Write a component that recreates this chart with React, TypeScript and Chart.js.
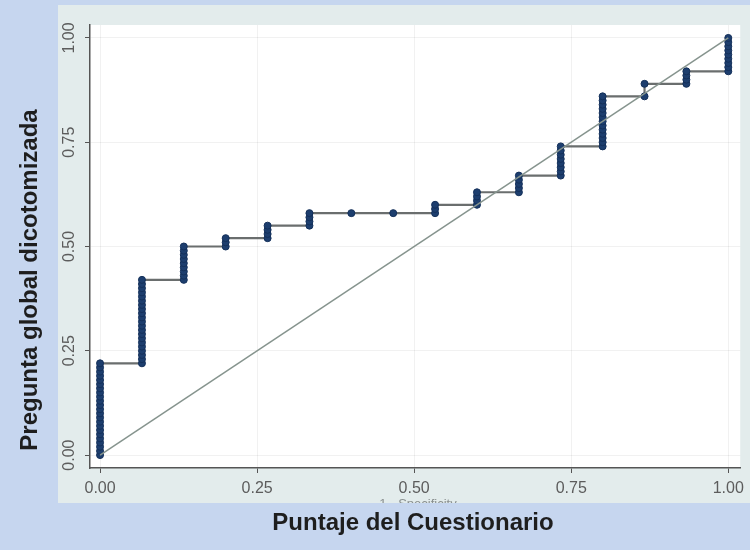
import React, { useEffect, useRef } from "react";
import { Chart, registerables } from "chart.js";

Chart.register(...registerables);

// 1 - specificity values (x) of each stack of points
const fprValues = [0, 0.0667, 0.1333, 0.2, 0.2667, 0.3333, 0.4, 0.4667, 0.5333, 0.6, 0.6667, 0.7333, 0.8, 0.8667, 0.9333, 1.0];

// sensitivity values (y) at each x, in plotting order
const sensStacks = [
  [0.0, 0.01, 0.02, 0.03, 0.04, 0.05, 0.06, 0.07, 0.08, 0.09, 0.1, 0.11, 0.12, 0.13, 0.14, 0.15, 0.16, 0.17, 0.18, 0.19, 0.2, 0.21, 0.22],
  [0.22, 0.23, 0.24, 0.25, 0.26, 0.27, 0.28, 0.29, 0.3, 0.31, 0.32, 0.33, 0.34, 0.35, 0.36, 0.37, 0.38, 0.39, 0.4, 0.41, 0.42],
  [0.42, 0.43, 0.44, 0.45, 0.46, 0.47, 0.48, 0.49, 0.5],
  [0.5, 0.51, 0.52],
  [0.52, 0.53, 0.54, 0.55],
  [0.55, 0.56, 0.57, 0.58],
  [0.58],
  [0.58],
  [0.58, 0.59, 0.6],
  [0.6, 0.61, 0.62, 0.63],
  [0.63, 0.64, 0.65, 0.66, 0.67],
  [0.67, 0.68, 0.69, 0.7, 0.71, 0.72, 0.73, 0.74],
  [0.74, 0.75, 0.76, 0.77, 0.78, 0.79, 0.8, 0.81, 0.82, 0.83, 0.84, 0.85, 0.86],
  [0.86, 0.89],
  [0.89, 0.9, 0.91, 0.92],
  [0.92, 0.93, 0.94, 0.95, 0.96, 0.97, 0.98, 0.99, 1.0],
];

const refLineX = [0, 1];
const refLineY = [0, 1];

const tickValues = [0, 0.25, 0.5, 0.75, 1];
const tickLabels = ["0.00", "0.25", "0.50", "0.75", "1.00"];

const xTitle = "Puntaje del Cuestionario";
const yTitle = "Pregunta global dicotomizada";
const ghostTitle = "1 - Specificity";

const FONT = "'Liberation Sans', Arial, sans-serif";

export default function App() {
  const ref = useRef<HTMLCanvasElement | null>(null);

  useEffect(() => {
    if (!ref.current) return;
    const rocPoints: { x: number; y: number }[] = [];
    fprValues.forEach((x, i) => {
      sensStacks[i].forEach((y) => rocPoints.push({ x, y }));
    });
    const refPoints = refLineX.map((x, i) => ({ x, y: refLineY[i] }));

    const bgPlugin = {
      id: "bg",
      beforeDraw(chart: any) {
        const { ctx, chartArea } = chart;
        ctx.save();
        ctx.fillStyle = "#c6d6ef";
        ctx.fillRect(0, 0, 750, 550);
        ctx.fillStyle = "#e3ecec";
        ctx.fillRect(58, 5, 692, 498);
        ctx.save();
        ctx.beginPath();
        ctx.rect(58, 5, 692, 498);
        ctx.clip();
        ctx.fillStyle = "#8a9090";
        ctx.font = `13px ${FONT}`;
        ctx.textAlign = "center";
        ctx.textBaseline = "middle";
        ctx.fillText(ghostTitle, 418, 504);
        ctx.restore();
        ctx.fillStyle = "#ffffff";
        ctx.fillRect(chartArea.left, chartArea.top, chartArea.right - chartArea.left, chartArea.bottom - chartArea.top);
        ctx.restore();
      },
      afterDraw(chart: any) {
        const { ctx } = chart;
        const ys = chart.scales.y;
        ctx.save();
        ctx.fillStyle = "#5c5c5c";
        ctx.font = `16px ${FONT}`;
        ctx.textAlign = "center";
        ctx.textBaseline = "middle";
        tickValues.forEach((v, i) => {
          const py = ys.getPixelForValue(v);
          ctx.save();
          ctx.translate(70, py);
          ctx.rotate(-Math.PI / 2);
          ctx.fillText(tickLabels[i], 0, 0);
          ctx.restore();
        });
        ctx.fillStyle = "#1e1e1e";
        ctx.font = `bold 24px ${FONT}`;
        ctx.fillText(xTitle, 413, 523);
        ctx.save();
        ctx.translate(30, 280);
        ctx.rotate(-Math.PI / 2);
        ctx.fillText(yTitle, 0, 0);
        ctx.restore();
        ctx.restore();
      },
    };

    const chart = new Chart(ref.current, {
      type: "scatter",
      data: {
        datasets: [
          {
            label: "ref",
            data: refPoints,
            showLine: true,
            borderColor: "#86948e",
            borderWidth: 1.5,
            pointRadius: 0,
            order: 0,
          },
          {
            label: "roc",
            data: rocPoints,
            showLine: true,
            borderColor: "#6a6e6e",
            borderWidth: 2.2,
            pointRadius: 3.5,
            pointBackgroundColor: "#1d3e6e",
            pointBorderColor: "#14305a",
            pointBorderWidth: 1,
            order: 1,
          },
        ],
      },
      options: {
        responsive: false,
        animation: false,
        layout: { padding: { top: 25, right: 8, left: 0, bottom: 0 } },
        plugins: { legend: { display: false }, tooltip: { enabled: false } },
        scales: {
          x: {
            type: "linear",
            min: -0.016,
            max: 1.019,
            afterBuildTicks(scale: any) {
              scale.ticks = tickValues.map((v) => ({ value: v }));
            },
            afterFit(scale: any) {
              scale.height = 82;
            },
            grid: {
              color: "rgba(0,0,0,0.055)",
              tickColor: "#555555",
              tickLength: 5,
              lineWidth: 1,
            },
            border: { display: true, color: "#555555", width: 1.5 },
            ticks: {
              padding: 6,
              color: "#5c5c5c",
              font: { family: FONT, size: 16 },
              maxRotation: 0,
              callback: (v: any) => {
                const i = tickValues.indexOf(Number(v));
                return i >= 0 ? tickLabels[i] : "";
              },
            },
          },
          y: {
            type: "linear",
            min: -0.031,
            max: 1.031,
            afterBuildTicks(scale: any) {
              scale.ticks = tickValues.map((v) => ({ value: v }));
            },
            afterFit(scale: any) {
              scale.width = 90;
            },
            grid: {
              color: "rgba(0,0,0,0.055)",
              tickColor: "#555555",
              tickLength: 5,
              lineWidth: 1,
            },
            border: { display: true, color: "#555555", width: 1.5 },
            ticks: { display: false },
          },
        },
      },
      plugins: [bgPlugin],
    });
    return () => chart.destroy();
  }, []);

  return (
    <div style={{ position: "fixed", left: 0, top: 0, width: 750, height: 550 }}>
      <canvas ref={ref} width={750} height={550} style={{ width: 750, height: 550, display: "block" }} />
    </div>
  );
}
